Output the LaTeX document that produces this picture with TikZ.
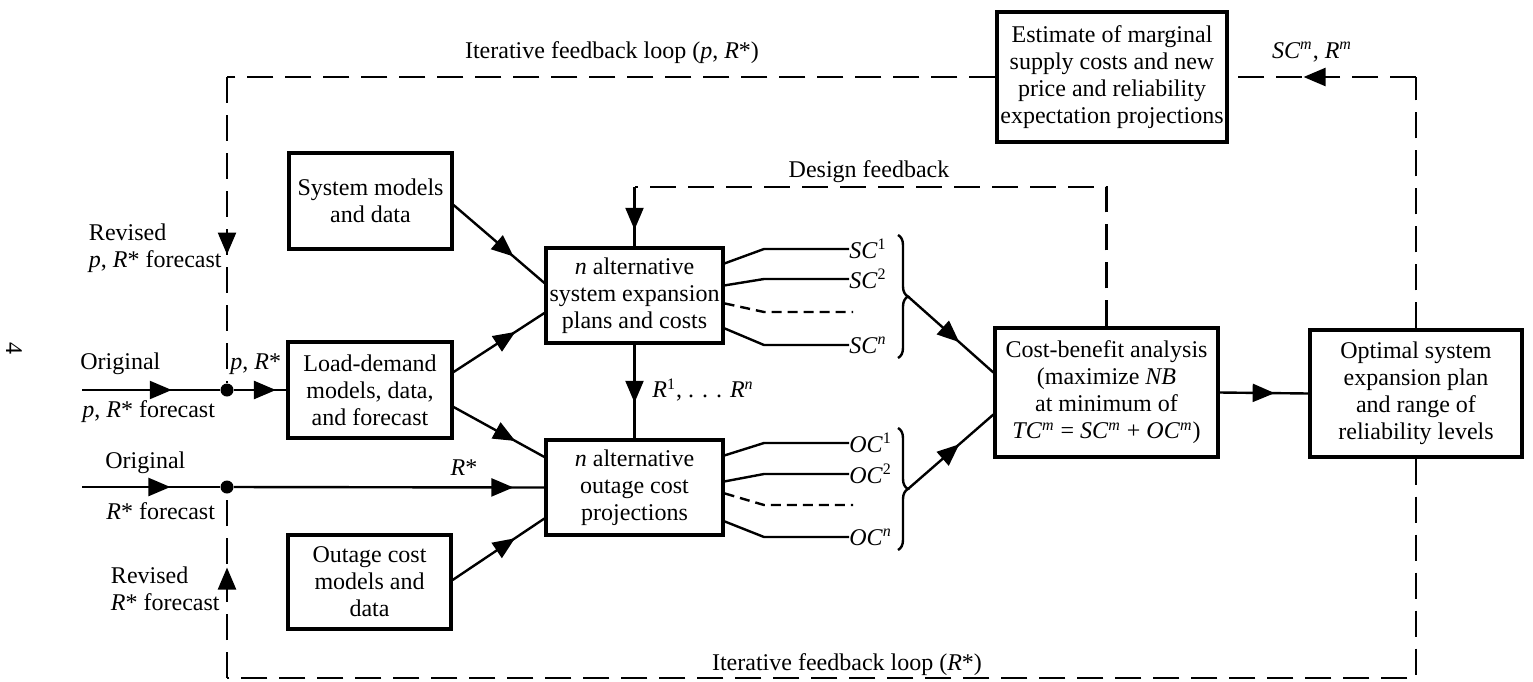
\documentclass[tikz,border=0pt]{standalone}
\usepackage{fontspec}
\setmainfont{Liberation Serif}
\usetikzlibrary{arrows.meta,decorations.markings,decorations.pathreplacing,calc}
\begin{document}
\begin{tikzpicture}[x=0.5pt,y=-0.5pt,
  every node/.style={font=\fontsize{12}{13.5}\selectfont},
  box/.style={draw, line width=1.6pt, align=center, inner sep=1pt},
  conn/.style={line width=1.2pt},
  dsh/.style={line width=1.2pt, dash pattern=on 13pt off 6pt},
  sdsh/.style={line width=1.2pt, dash pattern=on 5pt off 3pt},
  tipat/.style={postaction={decorate}, decoration={markings, mark=at position #1 with {\arrow{Triangle[length=11pt,width=9pt]}}}},
  dot/.style={circle, fill, inner sep=0pt, minimum size=6.5pt},
  lbl/.style={inner sep=0pt},
  brc/.style={line width=1.2pt, decorate, decoration={brace, amplitude=5pt}},
]
\useasboundingbox (0,0) rectangle (1533,681);

% boxes
\node[box, minimum width=81.5pt, minimum height=48pt] (sysmod) at (370.5,201) {System models\\and data};
\node[box, minimum width=82pt, minimum height=48pt] (load) at (370,390) {Load-demand\\models, data,\\and forecast};
\node[box, minimum width=81.5pt, minimum height=47pt] (outmod) at (369.5,582) {Outage cost\\models and\\data};
\node[box, minimum width=88.5pt, minimum height=47.5pt] (nsys) at (634.5,295.5) {\textit{n} alternative\\system expansion\\plans and costs};
\node[box, minimum width=88.5pt, minimum height=47.5pt] (nout) at (634.5,487.5) {\textit{n} alternative\\outage cost\\projections};
\node[box, minimum width=111.5pt, minimum height=64.5pt] (cba) at (1106.5,392.5) {Cost-benefit analysis\\(maximize \textit{NB}\\at minimum of\\\textit{TC}\textsuperscript{\textit{m}} = \textit{SC}\textsuperscript{\textit{m}} + \textit{OC}\textsuperscript{\textit{m}})};
\node[box, minimum width=106pt, minimum height=63.5pt] (opt) at (1416,393.5) {Optimal system\\expansion plan\\and range of\\reliability levels};
\node[box, minimum width=115pt, minimum height=65pt] (est) at (1112,77) {Estimate of marginal\\supply costs and new\\price and reliability\\expectation projections};

% junctions and corners
\node[dot] (j1) at (227,390) {};
\node[dot] (j2) at (227,487) {};
\coordinate (in1) at (82,390);
\coordinate (in2) at (82,487);
\coordinate (c1) at (227,77);
\coordinate (c4) at (1416,77);
\coordinate (c2) at (227,678);
\coordinate (c3) at (1416,678);
\coordinate (d1) at (1106.5,187);
\coordinate (d2) at (634.5,187);

% inputs
\draw[conn, tipat=0.65] (in1) -- (j1);
\draw[conn, tipat=0.8] (j1) -- (load.west);
\draw[conn, tipat=0.64] (in2) -- (j2);
\draw[conn, tipat=0.9] (j2) -- (nout.west);

% feedback loops
\draw[dsh] (est.west) -- (c1);
\draw[dsh, tipat=0.58] (c1) -- (j1);
\draw[dsh] (opt.north) -- (c4);
\draw[dsh, tipat=0.6] (c4) -- (est.east);
\draw[dsh] (opt.south) -- (c3) -- (c2);
\draw[dsh, tipat=0.6] (c2) -- (j2);
\draw[dsh] (cba.north) -- (d1) -- (d2);
\draw[dsh, tipat=0.72] (d2) -- (nsys.north);

% main flow
\draw[conn, tipat=0.62] (nsys.south) -- (nout.north);
\draw[conn, tipat=0.62] (cba.east) -- (opt.west);
\draw[conn, tipat=0.66] ($(sysmod.east)+(0,4)$) -- ($(nsys.west)+(0,-12.5)$);
\draw[conn, tipat=0.68] ($(load.east)+(0,-18)$) -- ($(nsys.west)+(0,17.5)$);
\draw[conn, tipat=0.68] ($(load.east)+(0,17)$) -- ($(nout.west)+(0,-30.5)$);
\draw[conn, tipat=0.68] ($(outmod.east)+(0,-2)$) -- ($(nout.west)+(0,31)$);

% SC outputs
\node[lbl, anchor=west] (sc1) at (849,249) {\textit{SC}\textsuperscript{1}};
\node[lbl, anchor=west] (sc2) at (849,279) {\textit{SC}\textsuperscript{2}};
\coordinate (scd) at (853,312);
\node[lbl, anchor=west] (scn) at (849,345) {\textit{SC}\textsuperscript{\textit{n}}};
\draw[conn] ($(nsys.north east)+(0,17)$) -- (764,249) -- (sc1.west);
\draw[conn] ($(nsys.north east)+(0,39)$) -- (764,279) -- (sc2.west);
\draw[sdsh] ($(nsys.north east)+(0,57)$) -- (764,312) -- (scd);
\draw[conn] ($(nsys.north east)+(0,82)$) -- (764,345) -- (scn.west);

% OC outputs
\node[lbl, anchor=west] (oc1) at (849,443) {\textit{OC}\textsuperscript{1}};
\node[lbl, anchor=west] (oc2) at (849,474) {\textit{OC}\textsuperscript{2}};
\coordinate (ocd) at (853,505);
\node[lbl, anchor=west] (ocn) at (849,537) {\textit{OC}\textsuperscript{\textit{n}}};
\draw[conn] ($(nout.north east)+(0,17)$) -- (764,443) -- (oc1.west);
\draw[conn] ($(nout.north east)+(0,43)$) -- (764,474) -- (oc2.west);
\draw[sdsh] ($(nout.north east)+(0,55)$) -- (764,505) -- (ocd);
\draw[conn] ($(nout.north east)+(0,83)$) -- (764,537) -- (ocn.west);

% braces
\draw[brc] (898,235) -- (898,358);
\coordinate (scb) at (908,296.5);
\draw[brc] (898,428) -- (898,550);
\coordinate (ocb) at (908,489);
\draw[conn, tipat=0.6] (scb) -- ($(cba.west)+(0,-20)$);
\draw[conn, tipat=0.6] (ocb) -- ($(cba.west)+(0,22)$);

% labels
\node[rotate=-90] (pg) at (14,348) {4};
\node[lbl] (toplbl) at (612,53) {Iterative feedback loop (\textit{p}, \textit{R}*)};
\node[lbl] (scm) at (1312,52) {\textit{SC}\textsuperscript{\textit{m}}, \textit{R}\textsuperscript{\textit{m}}};
\node[lbl] (dfb) at (869,172) {Design feedback};
\node[lbl, anchor=east, align=left] (rev1) at (222,248) {Revised\\\textit{p}, \textit{R}* forecast};
\node[lbl, anchor=west] (orig1) at (80,364) {Original};
\node[lbl, anchor=west] (orig1b) at (82,412) {\textit{p}, \textit{R}* forecast};
\node[lbl, anchor=west] (prs) at (230,364) {\textit{p}, \textit{R}*};
\node[lbl, anchor=west] (orig2) at (105,463) {Original};
\node[lbl, anchor=west] (orig2b) at (106,511) {\textit{R}* forecast};
\node[lbl] (rs) at (464,468) {\textit{R}*};
\node[lbl, anchor=east, align=left] (rev2) at (220,589) {Revised\\\textit{R}* forecast};
\node[lbl, anchor=west] (rr) at (652,390) {\textit{R}\textsuperscript{1}, . . . \textit{R}\textsuperscript{\textit{n}}};
\node[lbl] (botlbl) at (847,665) {Iterative feedback loop (\textit{R}*)};
\end{tikzpicture}
\end{document}
